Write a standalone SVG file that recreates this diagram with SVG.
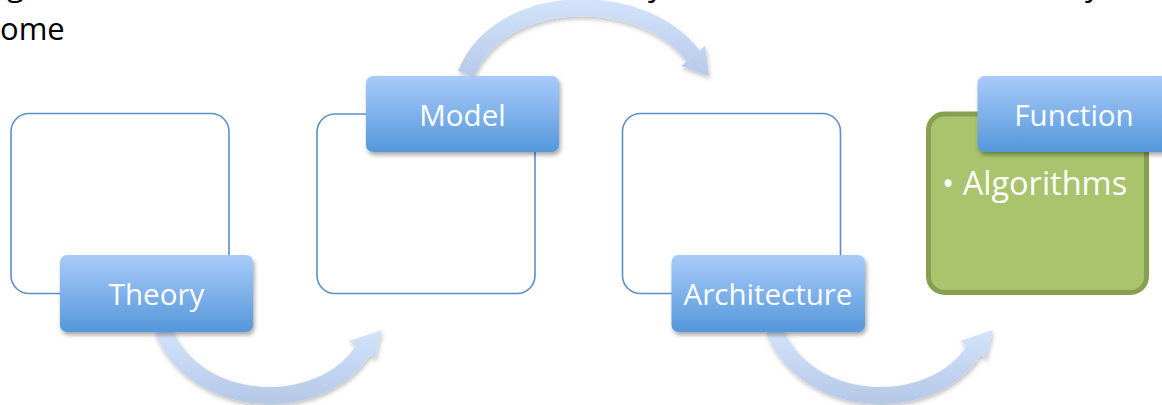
<svg xmlns="http://www.w3.org/2000/svg" width="1162" height="405" viewBox="0 0 1162 405">
  <defs>
    <linearGradient id="lbl" x1="0" y1="0" x2="0" y2="1">
      <stop offset="0" stop-color="#a9cbfa"/>
      <stop offset="1" stop-color="#5497da"/>
    </linearGradient>
    <linearGradient id="arrB1" gradientUnits="userSpaceOnUse" x1="0" y1="330" x2="0" y2="402">
      <stop offset="0" stop-color="#d2e3fa"/>
      <stop offset="1" stop-color="#b5c8e8"/>
    </linearGradient>
    <linearGradient id="arrT" gradientUnits="userSpaceOnUse" x1="0" y1="0" x2="0" y2="80">
      <stop offset="0" stop-color="#d2e3fa"/>
      <stop offset="1" stop-color="#b5c8e8"/>
    </linearGradient>
    <filter id="sh" x="-20%" y="-20%" width="140%" height="150%">
      <feDropShadow dx="1.5" dy="3" stdDeviation="2.2" flood-color="#000" flood-opacity="0.35"/>
    </filter>
    <filter id="shA" x="-20%" y="-20%" width="140%" height="150%">
      <feDropShadow dx="1" dy="2.5" stdDeviation="2" flood-color="#000" flood-opacity="0.25"/>
    </filter>
  </defs>
  <style>
    .outer { fill: #ffffff; stroke: #5b8fc8; stroke-width: 1.6; }
    .label { fill: url(#lbl); filter: url(#sh); }
    .ltxt { font-family: "Open Sans", "Liberation Sans", sans-serif; font-size: 29.5px; fill: #ffffff; text-anchor: middle; }
    .band { fill: none; stroke-width: 17; }
    .top { font-family: "Open Sans", "Liberation Sans", sans-serif; font-size: 31px; fill: #000000; }
  </style>

  <rect width="1162" height="405" fill="#ffffff"/>

  <g id="page-text">
    <text class="top" x="7" y="-4">g</text>
    <text class="top" x="0" y="40">ome</text>
    <text class="top" x="648" y="-4">y</text>
    <text class="top" x="1085" y="-4">y</text>
  </g>

  <g id="connectors">
    <g id="arrow-theory-model" filter="url(#shA)">
      <path class="band" stroke="url(#arrB1)" d="M163,330 C196,412 322,415 363,350"/>
      <polygon fill="url(#arrB1)" points="349,341 382,330 375,359"/>
    </g>
    <g id="arrow-model-architecture" filter="url(#shA)">
      <path class="band" stroke="url(#arrT)" d="M466,74 C500,-10 642,-12 693,56"/>
      <polygon fill="url(#arrT)" points="681,66 709,76 705,46"/>
    </g>
    <g id="arrow-architecture-function" filter="url(#shA)" transform="translate(611,0)">
      <path class="band" stroke="url(#arrB1)" d="M163,330 C196,412 322,415 363,350"/>
      <polygon fill="url(#arrB1)" points="349,341 382,330 375,359"/>
    </g>
  </g>

  <g id="node-theory">
    <rect class="outer" x="11" y="113.5" width="218" height="180" rx="18"/>
    <rect class="label" x="60" y="255" width="193" height="77" rx="7"/>
    <text class="ltxt" x="156.5" y="305">Theory</text>
  </g>

  <g id="node-model">
    <rect class="outer" x="317" y="114" width="218" height="179.5" rx="18"/>
    <rect class="label" x="366" y="76" width="193" height="76" rx="7"/>
    <text class="ltxt" x="462.5" y="126">Model</text>
  </g>

  <g id="node-architecture">
    <rect class="outer" x="622.5" y="113.5" width="218" height="180" rx="18"/>
    <rect class="label" x="671.5" y="255" width="193.5" height="77" rx="7"/>
    <text class="ltxt" x="768" y="305">Architecture</text>
  </g>

  <g id="node-function">
    <rect x="928.5" y="114" width="218" height="178.5" rx="16" fill="#a9c46c" stroke="#87a050" stroke-width="5"/>
    <text x="942" y="195" font-family="'Open Sans', 'Liberation Sans', sans-serif" font-size="32.5" fill="#ffffff">• Algorithms</text>
    <rect class="label" x="977.5" y="76" width="193" height="76" rx="7"/>
    <text class="ltxt" x="1074" y="126">Function</text>
  </g>
</svg>
